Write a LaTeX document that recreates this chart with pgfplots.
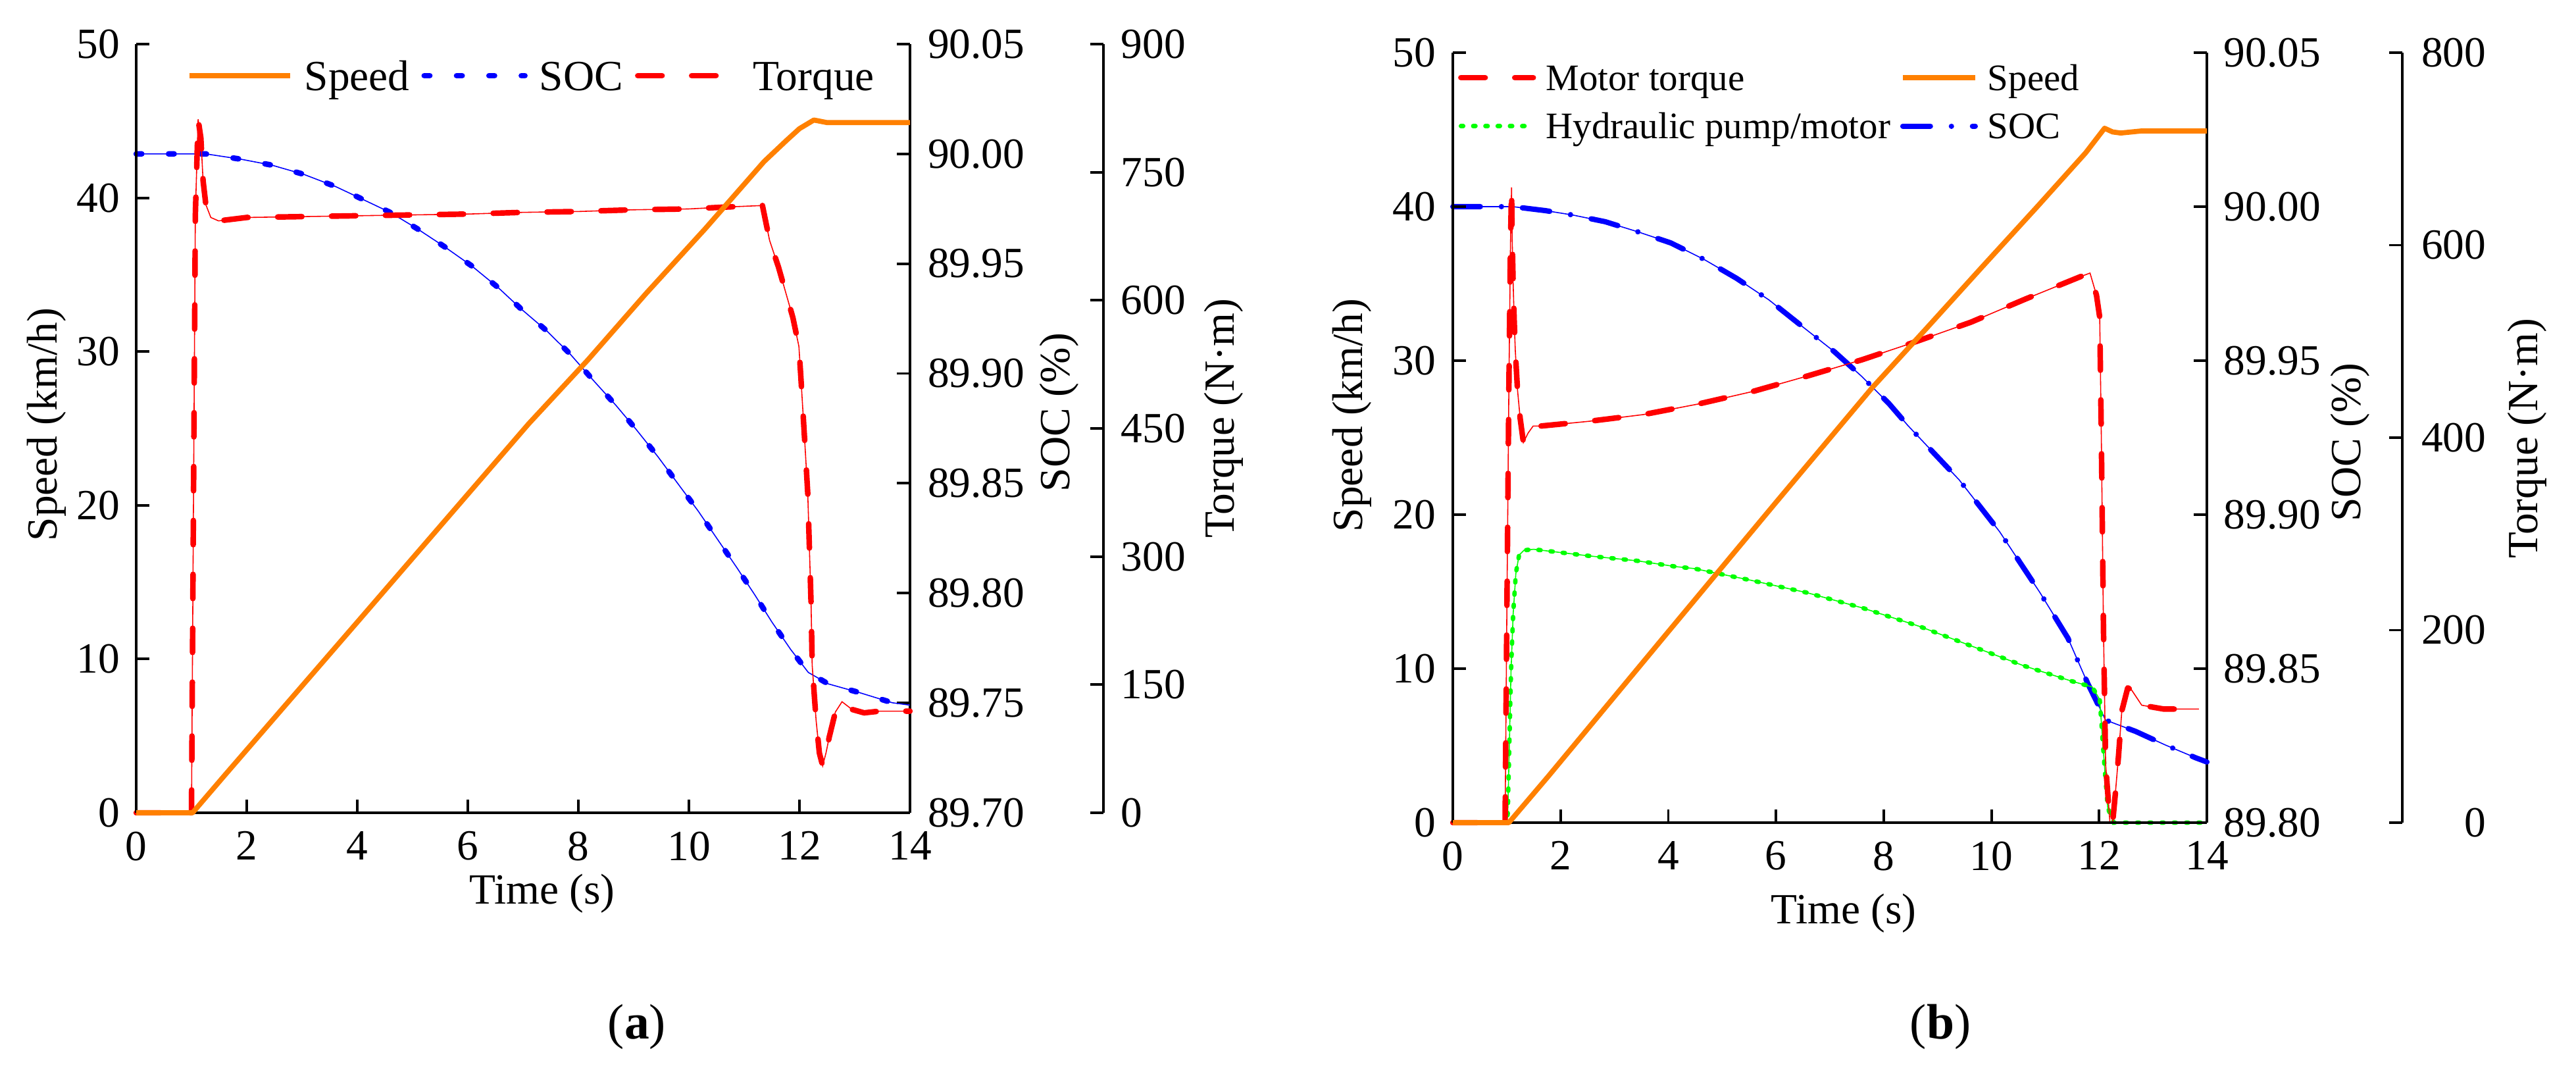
\documentclass[border=0pt]{standalone}
\usepackage{fontspec}
\setmainfont{Liberation Serif}
\usepackage{pgfplots}
\pgfplotsset{compat=1.18}
\definecolor{cOr}{RGB}{255,128,0}
\definecolor{cRd}{RGB}{255,0,0}
\definecolor{cBl}{RGB}{0,0,255}
\definecolor{cGr}{RGB}{0,255,0}
\tikzset{
  spd/.style={color=cOr, line width=2.2pt, line join=round, solid},
  trq/.style={color=cRd, line width=2.4pt, line cap=round, line join=round, dash pattern=on 10.5pt off 12.8pt},
  thinl/.style={line width=0.45pt, solid},
  socA/.style={color=cBl, line width=2.4pt, line cap=round, dash pattern=on 2.4pt off 11.6pt},
  socB/.style={color=cBl, line width=2.3pt, line cap=round, dash pattern=on 11.9pt off 9.1pt on 0.01pt off 9.1pt},
  hyd/.style={color=cGr, line width=1.9pt, line cap=round, dash pattern=on 1pt off 4.3pt},
}
\newcommand{\fA}{\fontsize{18.6}{22}\selectfont}
\newcommand{\fB}{\fontsize{16.2}{19}\selectfont}
\pgfplotsset{
  base/.style={scale only axis, clip=false,
    /pgf/number format/assume math mode=true,
    xticklabel={\pgfmathprintnumber{\tick}},
    yticklabel={\pgfmathprintnumber{\tick}},
    tick align=inside, major tick length=0.2cm,
    tick style={black, line width=1.1pt},
    axis line style={black, line width=1.3pt},
    ticklabel style={font=\fA, inner sep=0pt},
    xmin=0, xmax=14, scaled ticks=false, minor tick num=0,
  },
}

\pgfplotstableread{
t v
0 0
1.02 0
1.58 2.35
4 12.4
7.1 25.3
8.17 29.45
9.23 33.8
10.29 37.97
11.36 42.36
11.77 43.75
12.0 44.5
12.26 45.06
12.35 45.0
12.49 44.9
14 44.9
}\spdA

\pgfplotstableread{
t s
0 90.000
1.26 90.000
1.89 89.9976
2.45 89.9949
3.03 89.9907
3.61 89.9851
4.09 89.9794
4.6 89.9733
5.08 89.966
5.58 89.9577
6.07 89.949
6.55 89.9391
6.96 89.9295
7.42 89.9196
7.85 89.9089
8.27 89.8969
8.68 89.8855
9.05 89.8744
9.44 89.8621
10.17 89.8373
10.87 89.8115
11.2 89.7989
11.5 89.7869
11.84 89.7744
12.16 89.7639
12.52 89.7587
13.1 89.7546
13.68 89.7501
14 89.749
}\socA

\pgfplotstableread{
t T
0 0
1.00 0
1.03 300
1.07 700
1.12 812
1.17 790
1.21 740
1.26 712
1.35 697
1.49 693
2 697
3 698
4 699
5 700
6 701
7 703
8 704
9 706
10 707
10.6 709
11.33 711
11.46 670
11.62 639
11.88 580
11.99 546
12.03 505
12.10 430
12.15 374
12.21 245
12.23 173
12.30 109
12.36 70
12.42 55
12.48 70
12.54 89
12.65 118
12.77 130
12.95 121
13.17 117
13.45 119
14 119
}\trqA

\pgfplotstableread{
t v
0 0
1.04 0
1.77 3.0
4 12.4
6 20.8
7.79 28.26
8.81 32.16
9.82 36.06
10.84 39.96
11.75 43.5
12.1 45.09
12.25 44.85
12.4 44.78
12.77 44.91
14 44.91
}\spdB

\pgfplotstableread{
t s
0 90.000
1.11 90.000
1.72 89.9987
2.22 89.9973
2.83 89.9951
3.44 89.9918
4.05 89.9882
4.66 89.9829
5.27 89.9767
5.87 89.9697
6.48 89.9612
7.09 89.9528
7.59 89.9449
8.1 89.936
8.45 89.9289
9.4 89.9113
10.15 89.8945
10.9 89.8747
11.42 89.8599
11.79 89.8451
12.12 89.8333
12.68 89.8296
13.23 89.8252
13.8 89.821
14 89.8197
}\socB

\pgfplotstableread{
t T
0 0
0.97 0
1.00 200
1.04 450
1.07 600
1.09 660
1.10 610
1.12 560
1.14 520
1.16 490
1.20 450
1.25 420
1.31 395
1.40 405
1.49 412
1.62 412
2.53 417
3.54 424
4.56 435
5.57 448
6.58 464
7.6 481
8.61 500
9.62 520
10.63 544
11.64 567
11.83 571
11.95 548
12.01 525
12.04 400
12.08 200
12.12 60
12.2 0
12.25 0
12.3 30
12.36 70
12.42 116
12.53 140
12.6 138
12.79 122
13.2 118
13.85 118
}\trqB

\pgfplotstableread{
t T
0 0
1.0 0
1.02 10
1.05 83
1.08 157
1.12 217
1.17 259
1.23 278
1.32 283
1.5 284
2.55 277
3.43 272
4.14 266
4.48 264
5.52 252
6.57 239
7.61 223
8.66 204
9.7 182
10.6 163
11.49 147
11.87 141
12.01 128
12.09 65
12.16 15
12.27 0
14 0
}\hydB

\begin{document}
\begin{tikzpicture}
\path[use as bounding box] (0,0) rectangle (39.15cm,16.37cm);

% ================= Panel (a) =================
\begin{axis}[base, at={(2.07cm,4.02cm)}, anchor=south west, width=11.76cm, height=11.68cm,
  hide x axis, axis y line*=right,
  ymin=89.70, ymax=90.05, ytick={89.70,89.75,89.80,89.85,89.90,89.95,90.00,90.05},
  yticklabel style={anchor=west, xshift=0.265cm, /pgf/number format/.cd, fixed, fixed zerofill, precision=2},
  ylabel={SOC (\%)},
  every axis y label/.style={at={(axis description cs:1.193,0.521)}, anchor=center, rotate=90, font=\fA, inner sep=0pt}]
  \addplot[cBl, thinl] table[x=t,y=s] {\socA};
  \addplot[socA] table[x=t,y=s] {\socA};
\end{axis}

\begin{axis}[base, at={(2.07cm,4.02cm)}, anchor=south west, width=11.76cm, height=11.68cm,
  hide axis, ymin=0, ymax=900]
  \addplot[cRd, thinl] table[x=t,y=T] {\trqA};
  \addplot[trq] table[x=t,y=T] {\trqA};
\end{axis}

\begin{axis}[base, at={(16.77cm,4.02cm)}, anchor=south east, width=1cm, height=11.68cm,
  hide x axis, axis y line*=right, xmin=0, xmax=1,
  ymin=0, ymax=900, ytick={0,150,300,450,600,750,900},
  yticklabel style={anchor=west, xshift=0.26cm},
  ylabel={Torque (N·m)},
  every axis y label/.style={at={(axis description cs:2.83,0.513)}, anchor=center, rotate=90, font=\fA, inner sep=0pt}]
\end{axis}

\begin{axis}[base, at={(2.07cm,4.02cm)}, anchor=south west, width=11.76cm, height=11.68cm,
  axis x line*=bottom, axis y line*=left,
  ymin=0, ymax=50, ytick={0,10,20,30,40,50}, xtick={0,2,4,6,8,10,12,14},
  xticklabel style={anchor=north, yshift=-0.28cm},
  yticklabel style={anchor=east, xshift=-0.24cm},
  xlabel={Time (s)}, ylabel={Speed (km/h)},
  every axis x label/.style={at={(axis description cs:0.5247,-0.1053)}, anchor=center, font=\fA, inner sep=0pt},
  every axis y label/.style={at={(axis description cs:-0.1156,0.505)}, anchor=center, rotate=90, font=\fA, inner sep=0pt},
  legend columns=3, legend cell align=left,
  legend image code/.code={\draw[#1] (0cm,0cm) -- (1.53cm,0cm);},
  legend style={draw=none, fill=none, inner sep=0pt, outer sep=0pt, column sep=0.18cm,
    at={(axis description cs:0.0655,0.9589)}, anchor=west, font=\fA,
    nodes={inner sep=0pt, text height=12.65pt, text depth=0pt}}]
  \addplot[spd] table[x=t,y=v] {\spdA};
  \addlegendentry{Speed}
  \addlegendimage{socA}
  \addlegendentry{SOC}
  \addlegendimage{trq}
  \addlegendentry{Torque}
\end{axis}

% ================= Panel (b) =================
\begin{axis}[base, at={(22.08cm,3.87cm)}, anchor=south west, width=11.46cm, height=11.70cm,
  hide x axis, axis y line*=right,
  ymin=89.80, ymax=90.05, ytick={89.80,89.85,89.90,89.95,90.00,90.05},
  yticklabel style={anchor=west, xshift=0.25cm, /pgf/number format/.cd, fixed, fixed zerofill, precision=2},
  ylabel={SOC (\%)},
  every axis y label/.style={at={(axis description cs:1.190,0.494)}, anchor=center, rotate=90, font=\fA, inner sep=0pt}]
  \addplot[cBl, thinl] table[x=t,y=s] {\socB};
  \addplot[socB] table[x=t,y=s] {\socB};
\end{axis}

\begin{axis}[base, at={(22.08cm,3.87cm)}, anchor=south west, width=11.46cm, height=11.70cm,
  hide axis, ymin=0, ymax=800]
  \addplot[cGr, thinl] table[x=t,y=T] {\hydB};
  \addplot[hyd] table[x=t,y=T] {\hydB};
  \addplot[cRd, thinl] table[x=t,y=T] {\trqB};
  \addplot[trq] table[x=t,y=T] {\trqB};
\end{axis}

\begin{axis}[base, at={(36.51cm,3.87cm)}, anchor=south east, width=1cm, height=11.70cm,
  hide x axis, axis y line*=right, xmin=0, xmax=1,
  ymin=0, ymax=800, ytick={0,200,400,600,800},
  yticklabel style={anchor=east, xshift=1.28cm},
  ylabel={Torque (N·m)},
  every axis y label/.style={at={(axis description cs:2.90,0.499)}, anchor=center, rotate=90, font=\fA, inner sep=0pt}]
\end{axis}

\begin{axis}[base, at={(22.08cm,3.87cm)}, anchor=south west, width=11.46cm, height=11.70cm,
  axis x line*=bottom, axis y line*=left,
  ymin=0, ymax=50, ytick={0,10,20,30,40,50}, xtick={0,2,4,6,8,10,12,14},
  xticklabel style={anchor=north, yshift=-0.28cm},
  yticklabel style={anchor=east, xshift=-0.25cm},
  xlabel={Time (s)}, ylabel={Speed (km/h)},
  every axis x label/.style={at={(axis description cs:0.5183,-0.1179)}, anchor=center, font=\fA, inner sep=0pt},
  every axis y label/.style={at={(axis description cs:-0.1335,0.529)}, anchor=center, rotate=90, font=\fA, inner sep=0pt},
  legend columns=2, legend cell align=left,
  legend image code/.code={\draw[#1] (0cm,0cm) -- (1.1cm,0cm);},
  legend style={draw=none, fill=none, inner sep=0pt, outer sep=0pt, column sep=0.15cm, row sep=0.35cm,
    at={(axis description cs:0.007,0.9841)}, anchor=north west, font=\fB,
    nodes={inner sep=0pt, text height=11.0pt, text depth=0pt}}]
  \addlegendimage{trq}
  \addlegendentry{Motor torque}
  \addplot[spd] table[x=t,y=v] {\spdB};
  \addlegendentry{Speed}
  \addlegendimage{hyd}
  \addlegendentry{Hydraulic pump/motor}
  \addlegendimage{socB}
  \addlegendentry{SOC}
\end{axis}

\node[font=\fontsize{21.5}{24}\selectfont, anchor=center] at (9.68cm,0.77cm) {(\textbf{a})};
\node[font=\fontsize{21.5}{24}\selectfont, anchor=center] at (29.49cm,0.77cm) {(\textbf{b})};
\end{tikzpicture}
\end{document}
